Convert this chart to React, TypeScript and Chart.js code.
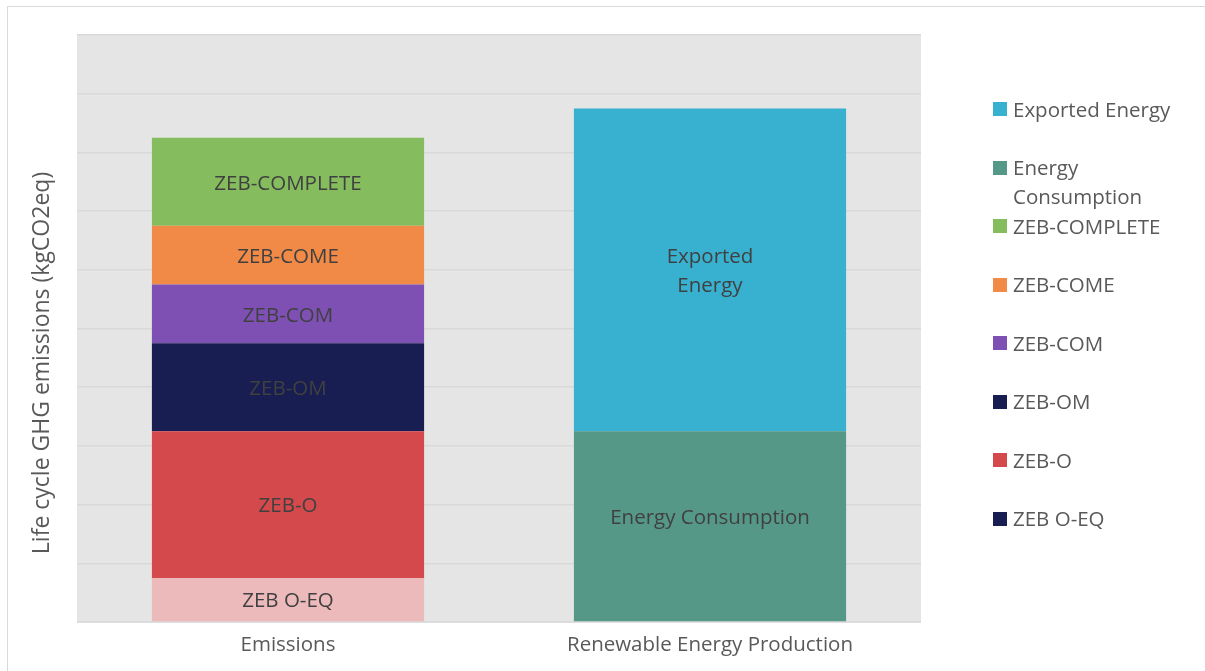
import React, { useEffect, useRef } from "react";
import { Chart, registerables } from "chart.js";

Chart.register(...registerables);

const categories = ["Emissions", "Renewable Energy Production"];
const zebOEq = [0.75, null];
const zebO = [2.5, null];
const zebOM = [1.5, null];
const zebCOM = [1.0, null];
const zebCOME = [1.0, null];
const zebComplete = [1.5, null];
const energyConsumption = [null, 3.25];
const exportedEnergy = [null, 5.5];
const yMin = 0;
const yMax = 10;
const yStep = 1;
const yTitle = "Life cycle GHG emissions (kgCO2eq)";

const FONT = "'Open Sans', sans-serif";
const FS = 20.5;

const datasets = [
  { label: "ZEB O-EQ", data: zebOEq, backgroundColor: "#ecbaba", barText: ["ZEB O-EQ"] },
  { label: "ZEB-O", data: zebO, backgroundColor: "#d4494b", barText: ["ZEB-O"] },
  { label: "ZEB-OM", data: zebOM, backgroundColor: "#181e51", barText: ["ZEB-OM"] },
  { label: "ZEB-COM", data: zebCOM, backgroundColor: "#7e50b4", barText: ["ZEB-COM"] },
  { label: "ZEB-COME", data: zebCOME, backgroundColor: "#f08a46", barText: ["ZEB-COME"] },
  { label: "ZEB-COMPLETE", data: zebComplete, backgroundColor: "#84bc5e", barText: ["ZEB-COMPLETE"] },
  { label: "Energy Consumption", data: energyConsumption, backgroundColor: "#559887", barText: ["Energy Consumption"], dy: -10 },
  { label: "Exported Energy", data: exportedEnergy, backgroundColor: "#38b1d0", barText: ["Exported", "Energy"] },
];

const legendItems = [
  { text: ["Exported Energy"], color: "#38b1d0" },
  { text: ["Energy", "Consumption"], color: "#559887" },
  { text: ["ZEB-COMPLETE"], color: "#84bc5e" },
  { text: ["ZEB-COME"], color: "#f08a46" },
  { text: ["ZEB-COM"], color: "#7e50b4" },
  { text: ["ZEB-OM"], color: "#181e51" },
  { text: ["ZEB-O"], color: "#d4494b" },
  { text: ["ZEB O-EQ"], color: "#181e51" },
];

const plotBg = {
  id: "plotBg",
  beforeDraw(chart: any) {
    const { ctx, chartArea } = chart;
    ctx.save();
    ctx.fillStyle = "#e5e5e5";
    ctx.fillRect(chartArea.left, chartArea.top - 1, chartArea.right - chartArea.left, chartArea.bottom - chartArea.top + 2);
    ctx.restore();
  },
};

const yTitlePlugin = {
  id: "yTitlePlugin",
  afterDraw(chart: any) {
    const { ctx } = chart;
    ctx.save();
    ctx.translate(42, 363);
    ctx.rotate(-Math.PI / 2);
    ctx.font = `23px ${FONT}`;
    ctx.fillStyle = "#595959";
    ctx.textAlign = "center";
    ctx.textBaseline = "middle";
    ctx.fillText(yTitle, 0, 0);
    ctx.restore();
  },
};

const barLabels = {
  id: "barLabels",
  afterDatasetsDraw(chart: any) {
    const { ctx } = chart;
    ctx.save();
    ctx.font = `${FS}px ${FONT}`;
    ctx.fillStyle = "#404040";
    ctx.textAlign = "center";
    ctx.textBaseline = "middle";
    chart.data.datasets.forEach((ds: any, i: number) => {
      const meta = chart.getDatasetMeta(i);
      meta.data.forEach((el: any, j: number) => {
        if (ds.data[j] == null) return;
        const cy = (el.y + el.base) / 2 + 2 + (ds.dy || 0);
        const lines: string[] = ds.barText;
        const lh = 29;
        lines.forEach((t, k) => {
          ctx.fillText(t, el.x, cy + (k - (lines.length - 1) / 2) * lh);
        });
      });
    });
    ctx.restore();
  },
};

export default function App() {
  const ref = useRef<HTMLCanvasElement | null>(null);
  useEffect(() => {
    if (!ref.current) return;
    const chart = new Chart(ref.current, {
      type: "bar",
      data: {
        labels: categories,
        datasets: datasets.map((d) => ({
          label: d.label,
          data: d.data as any,
          backgroundColor: d.backgroundColor,
          barText: d.barText,
          dy: (d as any).dy,
          categoryPercentage: 0.645,
          barPercentage: 1,
        })) as any,
      },
      options: {
        animation: false,
        responsive: true,
        maintainAspectRatio: false,
        layout: { padding: { left: 26, top: 35, right: 284, bottom: 0 } },
        plugins: { legend: { display: false }, tooltip: { enabled: false } },
        scales: {
          x: {
            stacked: true,
            grid: { display: false, drawTicks: false },
            border: { display: false },
            ticks: { color: "#595959", font: { family: FONT, size: FS }, padding: 11 },
            afterFit: (s: any) => { s.height = 49; },
          },
          y: {
            stacked: true,
            min: yMin,
            max: yMax,
            ticks: { display: false, stepSize: yStep },
            grid: { color: "#d9d9d9", lineWidth: 1.5, drawTicks: false },
            border: { display: false },
            title: { display: false },
            afterFit: (s: any) => { s.width = 51; },
          },
        },
      },
      plugins: [plotBg, barLabels, yTitlePlugin],
    });
    return () => chart.destroy();
  }, []);

  return (
    <div style={{ position: "fixed", left: 0, top: 0, width: 1205, height: 671, background: "#fff", overflow: "hidden" }}>
      <div style={{ position: "absolute", left: 7, top: 6, width: 1400, height: 900, border: "1.5px solid #d9d9d9" }} />
      <div style={{ position: "absolute", left: 0, top: 0, width: 1205, height: 671 }}>
        <canvas ref={ref} />
      </div>
      <div style={{ position: "absolute", left: 993, top: 0, fontFamily: FONT, fontSize: FS, color: "#595959" }}>
        {legendItems.map((it, i) => (
          <div key={i} style={{ position: "absolute", left: 0, top: 109 - 14.5 + i * 58.5, whiteSpace: "nowrap" }}>
            <div style={{ position: "absolute", left: 0, top: 7.5, width: 14, height: 14, background: it.color }} />
            <div style={{ position: "absolute", left: 20, top: 0, lineHeight: "29px" }}>
              {it.text.map((t, k) => (
                <div key={k}>{t}</div>
              ))}
            </div>
          </div>
        ))}
      </div>
    </div>
  );
}
